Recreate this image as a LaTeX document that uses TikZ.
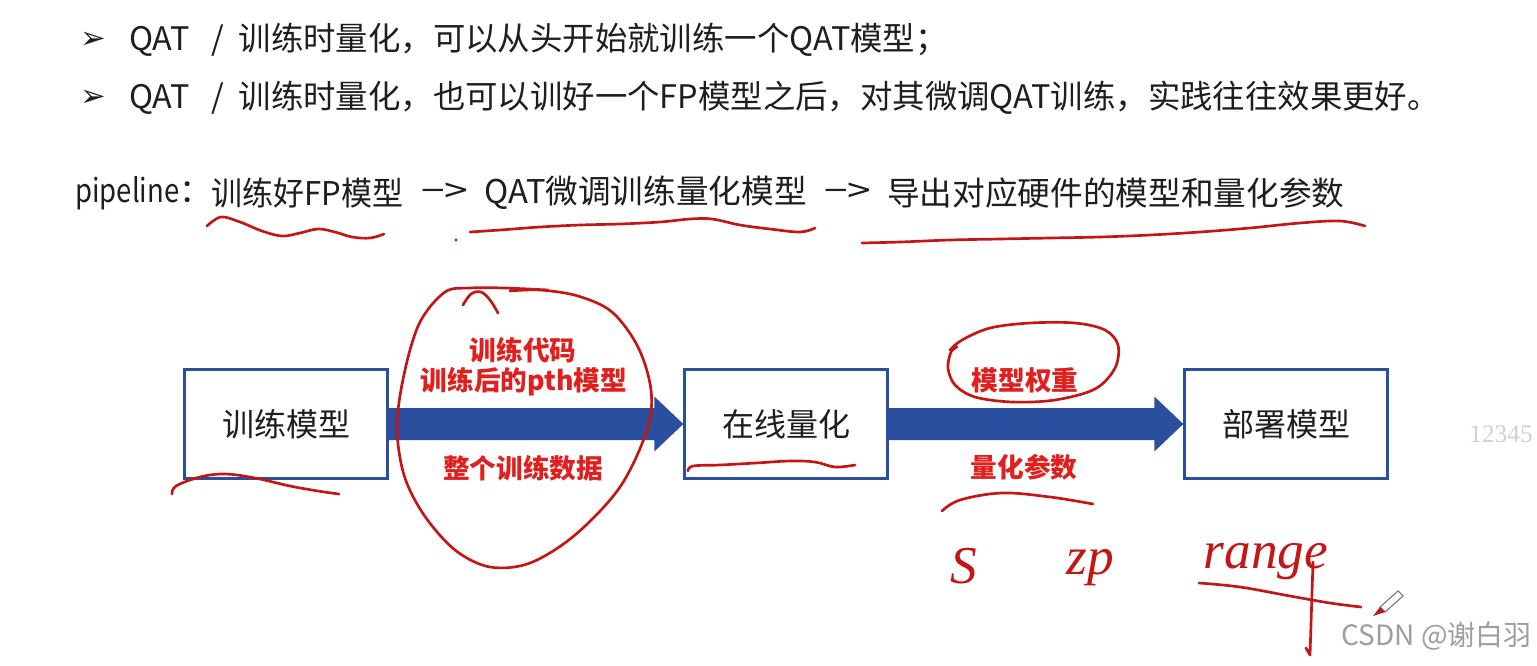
\documentclass[tikz,border=0pt]{standalone}
\usepackage{fontspec}
\usepackage{graphicx}
\setmainfont{Noto Sans CJK SC}
\newfontfamily\cjk{Noto Sans CJK SC}
\newfontfamily\dvs{DejaVu Sans}
\newfontfamily\numfont{Liberation Serif}
\newfontfamily\handfont{Liberation Serif}
\usetikzlibrary{calc}
\definecolor{qblue}{HTML}{2B4F9F}
\definecolor{qred}{HTML}{E0201E}
\definecolor{hred}{HTML}{C41616}
\definecolor{txt}{HTML}{1E1E1E}
\tikzset{
  box/.style={draw=qblue, line width=2pt, fill=white, minimum width=152pt, minimum height=82pt, inner sep=0pt, font=\cjk\fontsize{24pt}{28pt}\selectfont, text=txt},
  lab/.style={text=qred, inner sep=0pt, font=\cjk\bfseries\fontsize{20pt}{24pt}\selectfont},
  line/.style={text=txt, inner sep=0pt, anchor=west, font=\cjk\fontsize{24.3pt}{28pt}\selectfont},
  pline/.style={text=txt, inner sep=0pt, anchor=west, font=\cjk\fontsize{24.5pt}{28pt}\selectfont},
  bullet/.style={text=txt, inner sep=0pt, font=\dvs\fontsize{23pt}{26pt}\selectfont},
  hand/.style={draw=hred, line width=2pt, line cap=round, line join=round},
  handtext/.style={text=hred, inner sep=0pt, font=\handfont\itshape\fontsize{40pt}{44pt}\selectfont},
  barrow/.style={fill=qblue}
}
\begin{document}
\begin{tikzpicture}[x=0.75pt,y=-0.75pt]
\useasboundingbox[fill=white] (0,0) rectangle (1537,665);

% bullet lines
\node[bullet] (bu1) at (93,40) {➢};
\node[line] (t1) at (129,40) {QAT\hspace{16pt}/\hspace{11pt}训练时量化，可以从头开始就训练一个QAT模型；};
\node[bullet] (bu2) at (93,98) {➢};
\node[line] (t2) at (129,98) {QAT\hspace{16pt}/\hspace{11pt}训练时量化，也可以训好一个FP模型之后，对其微调QAT训练，实践往往效果更好。};

% pipeline line
\node[pline] (p0) at (75,193) {\scalebox{0.84}[1]{pipeline}：};
\node[pline] (p1) at (211,193) {\scalebox{0.95}[1]{训练好FP模型}};
\node[pline] (a1) at (421,193) {\scalebox{1.3}[1]{−>}};
\node[pline] (p2) at (484,193) {QAT微调训练量化模型};
\node[pline] (a2) at (824,193) {\scalebox{1.3}[1]{−>}};
\node[pline] (p3) at (887,193) {导出对应硬件的模型和量化参数};

% boxes and arrows
\node[box] (b1) at (286,424) {训练模型};
\node[box] (b2) at (786,424) {在线量化};
\node[box] (b3) at (1286,424) {部署模型};

\fill[barrow] ($(b1.east)+(0,-16)$) -- ($(b2.west)+(-29,-16)$) -- ($(b2.west)+(-29,-27.5)$) -- (b2.west) -- ($(b2.west)+(-29,27.5)$) -- ($(b2.west)+(-29,16)$) -- ($(b1.east)+(0,16)$) -- cycle;
\fill[barrow] ($(b2.east)+(0,-16)$) -- ($(b3.west)+(-29,-16)$) -- ($(b3.west)+(-29,-27.5)$) -- (b3.west) -- ($(b3.west)+(-29,27.5)$) -- ($(b3.west)+(-29,16)$) -- ($(b2.east)+(0,16)$) -- cycle;

% red labels
\node[lab] (l1) at (523,350) {训练代码};
\node[lab] (l2) at (524,382) {训练后的pth模型};
\node[lab] (l3) at (523,468) {整个训练数据};
\node[lab] (l4) at (1025,380) {模型权重};
\node[lab] (l5) at (1024,467) {量化参数};

% faint number and watermark
\node[text=black!18, inner sep=0pt, font=\numfont\fontsize{19pt}{22pt}\selectfont] (num) at (1501,434) {12345};
\node[text=black!38, inner sep=0pt, anchor=east, font=\cjk\fontsize{21pt}{24pt}\selectfont] (wm) at (1532,636) {CSDN @谢白羽};

% handwritten underlines (pipeline)
\draw[hand] plot[smooth, tension=0.6] coordinates {(207,226) (221,217) (240,222) (262,231) (282,236) (300,233) (318,229) (335,232) (352,237) (370,238) (384,234)};
\fill[hred] (456,240) circle (1.6);
\draw[hand] plot[smooth, tension=0.6] coordinates {(470,232) (500,230) (540,227) (580,225) (620,224) (660,222) (690,219) (712,219) (740,225) (770,229) (800,232) (815,228)};
\draw[hand] plot[smooth, tension=0.6] coordinates {(862,243) (900,242) (950,240) (1000,239) (1050,238) (1100,237) (1150,235) (1200,232) (1250,228) (1300,223) (1340,221) (1365,226)};

% underlines in diagram
\draw[hand] plot[smooth, tension=0.6] coordinates {(172,494) (176,486) (200,477) (225,474) (255,478) (290,486) (318,491) (339,494)};
\draw[hand] plot[smooth, tension=0.6] coordinates {(688,471) (693,466) (720,465) (756,463) (790,461) (815,462) (835,467) (855,465)};
\draw[hand] plot[smooth, tension=0.6] coordinates {(942,511) (960,500) (1002,493) (1050,497) (1093,504)};

% loop round the left labels
\draw[hand] plot[smooth, tension=0.55] coordinates {(548,290) (505,288) (470,288) (445,292) (420,322) (405,370) (397,425) (404,475) (424,515) (455,550) (490,567) (530,563) (575,535) (620,487) (647,430) (651,390) (638,347) (612,312) (578,296) (540,290) (510,291)};
\draw[hand] plot[smooth, tension=0.6] coordinates {(463,305) (471,294) (481,292) (490,300) (498,313)};

% loop round 模型权重
\draw[hand] plot[smooth, tension=0.55] coordinates {(957,347) (951,352) (948,368) (955,385) (975,397) (1012,402) (1055,400) (1095,389) (1115,368) (1118,345) (1105,330) (1075,323) (1030,323) (990,328) (962,340) (950,350)};

% handwritten S, zp, range
\node[handtext] (hs) at (964,566) {S};
\node[handtext] (hzp) at (1090,568) {zp};
\node[handtext] (hr) at (1266,562) {range};
\draw[hand] plot[smooth, tension=0.6] coordinates {(1199,583) (1240,587) (1290,596) (1330,603) (1361,607)};
\draw[hand] (1313,562) -- (1310,655) -- (1306,648);

% pen cursor
\draw[black!55, line width=0.8pt, fill=white] (1398,591) -- (1403,596) -- (1385,612) -- (1380,607) -- cycle;
\fill[hred] (1380,607) -- (1385,612) -- (1373,616) -- cycle;
\end{tikzpicture}
\end{document}
